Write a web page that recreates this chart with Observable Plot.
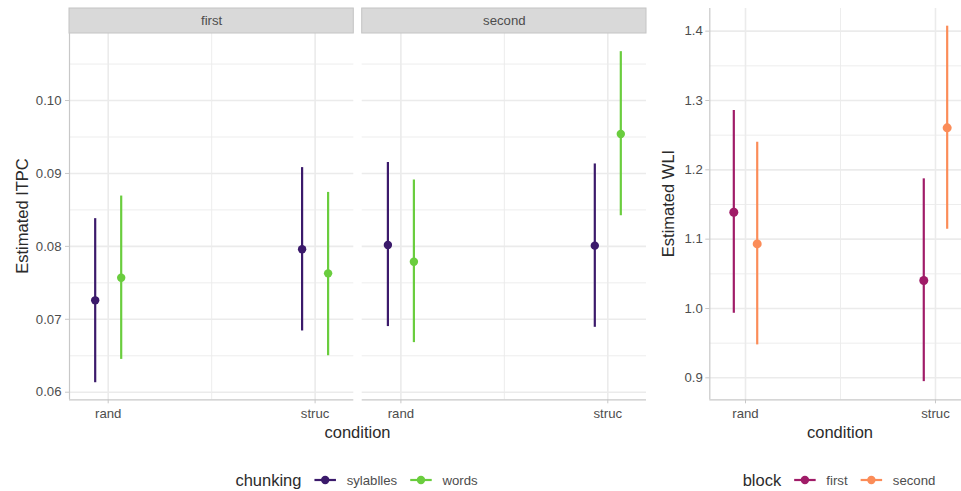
<!DOCTYPE html>
<html><head><meta charset="utf-8">
<script src="https://cdn.jsdelivr.net/npm/d3@7"></script>
<script src="https://cdn.jsdelivr.net/npm/@observablehq/plot@0.6"></script>
<style>
body{margin:0;background:#fff;font-family:"Liberation Sans",Arial,sans-serif;}
#wrap{position:relative;width:961px;height:491px;overflow:hidden;background:#fff;}
#wrap > svg{position:absolute;top:0;}
</style></head><body><div id="wrap"></div>
<script>
// ---------- data ----------
const conditions = ["rand", "struc"];
const blocks = ["first", "second"];
const chunkings = ["sylablles", "words"];
const chunkColors = ["#3b1a6b", "#6acd3e"];
const blockColors = ["#a01c68", "#fb8c58"];

// ITPC (left, faceted by block)
const itpcBlock     = ["first", "first", "first", "first", "second", "second", "second", "second"];
const itpcCondition = ["rand", "rand", "struc", "struc", "rand", "rand", "struc", "struc"];
const itpcChunking  = ["sylablles", "words", "sylablles", "words", "sylablles", "words", "sylablles", "words"];
const itpcEst   = [0.0726, 0.0757, 0.0796, 0.0763, 0.0802, 0.0779, 0.0801, 0.0954];
const itpcLower = [0.0613, 0.0645, 0.0684, 0.0650, 0.0690, 0.0668, 0.0689, 0.0842];
const itpcUpper = [0.0838, 0.0869, 0.0908, 0.0874, 0.0915, 0.0891, 0.0913, 0.1067];
const itpcTicks = [0.06, 0.07, 0.08, 0.09, 0.10];
const itpcMinor = [0.065, 0.075, 0.085, 0.095, 0.105];

// WLI (right)
const wliCondition = ["rand", "rand", "struc", "struc"];
const wliBlock     = ["first", "second", "first", "second"];
const wliEst   = [1.1388, 1.0932, 1.0403, 1.2606];
const wliLower = [0.9931, 0.9475, 0.8945, 1.1143];
const wliUpper = [1.2856, 1.2398, 1.1870, 1.4072];
const wliTicks = [0.9, 1.0, 1.1, 1.2, 1.3, 1.4];
const wliMinor = [0.95, 1.05, 1.15, 1.25, 1.35];

// ---------- helpers ----------
const FONT = "Liberation Sans, Arial, Helvetica, sans-serif";
const GRID = "#ebebeb", AXIS = "#c8c8c8", TXT = "#4d4d4d";
const cx = d => conditions.indexOf(d.condition) + 1;
const xMajor = conditions.map((c, i) => i + 1);
const xMinor = xMajor.slice(1).map(v => v - 0.5);

const itpc = itpcEst.map((e, i) => ({block: itpcBlock[i], condition: itpcCondition[i], chunking: itpcChunking[i], est: e, lo: itpcLower[i], hi: itpcUpper[i]}));
const wli = wliEst.map((e, i) => ({condition: wliCondition[i], block: wliBlock[i], est: e, lo: wliLower[i], hi: wliUpper[i]}));

const style = {fontFamily: FONT, fontSize: "13.2px", color: TXT, background: "transparent", overflow: "visible"};

function grid(minor, major) {
  return [
    Plot.ruleY(minor, {stroke: GRID, strokeWidth: 0.9}),
    Plot.ruleY(major, {stroke: GRID, strokeWidth: 1.6}),
    Plot.ruleX(xMinor, {stroke: GRID, strokeWidth: 0.9}),
    Plot.ruleX(xMajor, {stroke: GRID, strokeWidth: 1.6})
  ];
}

// ---------- left: faceted ITPC ----------
const leftY = [0.05896, 0.10919];
const leftX = [0.813, 2.187];
const leftPlot = Plot.plot({
  width: 655, height: 445,
  marginLeft: 69, marginRight: 9, marginTop: 33, marginBottom: 45.7,
  style,
  fx: {domain: blocks, paddingInner: 0.0287, paddingOuter: 0, round: false, axis: null},
  x: {type: "linear", domain: leftX, axis: null},
  y: {domain: leftY, axis: null},
  marks: [
    ...grid(itpcMinor, itpcTicks),
    Plot.rect(blocks, {fx: d => d, fill: "#d9d9d9", stroke: "#c4c4c4", strokeWidth: 1, insetTop: -25, insetBottom: 366.3}),
    Plot.text(blocks, {fx: d => d, text: d => d, frameAnchor: "top", lineAnchor: "middle", dy: -12.5, fill: TXT, fontSize: 13.2}),
    Plot.ruleY([leftY[0]], {stroke: AXIS, strokeWidth: 1.2}),
    Plot.ruleX([blocks[0]], {fx: d => d, x: leftX[0], stroke: AXIS, strokeWidth: 1.2}),
    Plot.axisY(itpcTicks, {tickFormat: d3.format(".2f"), tickSize: 4, tickPadding: 4, stroke: AXIS, fill: TXT, fontSize: 13.2, label: null}),
    Plot.axisX(xMajor, {tickFormat: i => conditions[i - 1], tickSize: 4, tickPadding: 4.7, stroke: AXIS, fill: TXT, fontSize: 13.2, label: null}),
    ...chunkings.flatMap((c, k) => {
      const data = itpc.filter(d => d.chunking === c);
      const dx = k === 0 ? -13 : 13;
      return [
        Plot.ruleX(data, {fx: "block", x: cx, y1: "lo", y2: "hi", stroke: chunkColors[k], strokeWidth: 2.2, dx}),
        Plot.dot(data, {fx: "block", x: cx, y: "est", fill: chunkColors[k], r: 4.2, dx})
      ];
    })
  ]
});
leftPlot.style.left = "0px";

// ---------- right: WLI ----------
const rightY = [0.8683, 1.4327];
const rightX = [0.812, 2.137];
const rightPlot = Plot.plot({
  width: 311, height: 445,
  marginLeft: 59.3, marginRight: 0, marginTop: 8, marginBottom: 45.7,
  style,
  x: {type: "linear", domain: rightX, axis: null},
  y: {domain: rightY, axis: null},
  marks: [
    ...grid(wliMinor, wliTicks),
    Plot.ruleY([rightY[0]], {stroke: AXIS, strokeWidth: 1.2}),
    Plot.ruleX([rightX[0]], {stroke: AXIS, strokeWidth: 1.2}),
    Plot.axisY(wliTicks, {tickFormat: d3.format(".1f"), tickSize: 4, tickPadding: 3, stroke: AXIS, fill: TXT, fontSize: 13.2, label: null}),
    Plot.axisX(xMajor, {tickFormat: i => conditions[i - 1], tickSize: 4, tickPadding: 4.7, stroke: AXIS, fill: TXT, fontSize: 13.2, label: null}),
    ...blocks.flatMap((b, k) => {
      const data = wli.filter(d => d.block === b);
      const dx = k === 0 ? -11.7 : 11.7;
      return [
        Plot.ruleX(data, {x: cx, y1: "lo", y2: "hi", stroke: blockColors[k], strokeWidth: 2.2, dx}),
        Plot.dot(data, {x: cx, y: "est", fill: blockColors[k], r: 4.5, dx})
      ];
    })
  ]
});
rightPlot.style.left = "650px";

const wrap = document.getElementById("wrap");
wrap.appendChild(leftPlot);
wrap.appendChild(rightPlot);

// ---------- titles & legends ----------
const ov = d3.select(wrap).append("svg")
  .attr("width", 961).attr("height", 491)
  .style("left", "0px").style("pointer-events", "none")
  .attr("font-family", FONT);

function title(x, y, text, rotate) {
  ov.append("text")
    .attr("transform", `translate(${x},${y})` + (rotate ? " rotate(-90)" : ""))
    .attr("text-anchor", "middle").attr("dy", "0.35em")
    .attr("font-size", 16.5).attr("fill", "#2b2b2b").text(text);
}
title(22, 216, "Estimated ITPC", true);
title(357.5, 432, "condition", false);
title(668, 203.5, "Estimated WLI", true);
title(840, 432, "condition", false);

function legend(centerX, y, name, labels, colors) {
  const g = ov.append("g");
  const t = g.append("text").attr("x", 0).attr("y", y).attr("dy", "0.35em")
    .attr("font-size", 16.5).attr("fill", "#2b2b2b").text(name);
  let x = t.node().getComputedTextLength() + 13;
  labels.forEach((lab, i) => {
    g.append("line").attr("x1", x).attr("x2", x + 21.5).attr("y1", y).attr("y2", y)
      .attr("stroke", colors[i]).attr("stroke-width", 2.2);
    g.append("circle").attr("cx", x + 10.75).attr("cy", y).attr("r", 4.2).attr("fill", colors[i]);
    x += 21.5 + 10.7;
    const lt = g.append("text").attr("x", x).attr("y", y).attr("dy", "0.35em")
      .attr("font-size", 13.2).attr("fill", TXT).text(lab);
    x += lt.node().getComputedTextLength() + (i < labels.length - 1 ? 13 : 0);
  });
  g.attr("transform", `translate(${centerX - x / 2},0)`);
}
legend(356.5, 480, "chunking", chunkings, chunkColors);
legend(839, 480, "block", blocks, blockColors);
</script></body></html>
